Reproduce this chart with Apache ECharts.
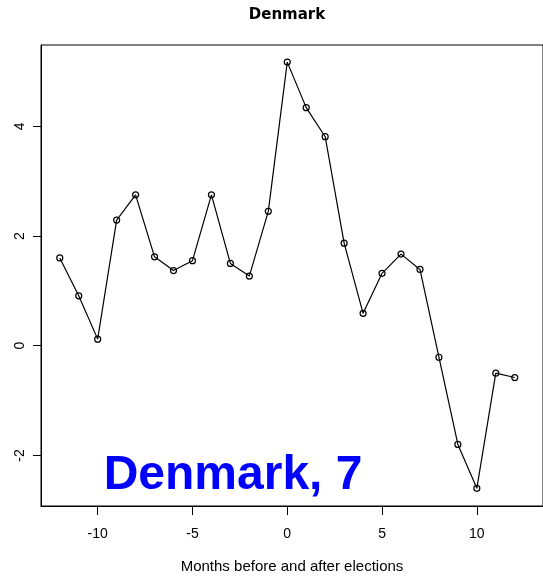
<!DOCTYPE html>
<html>
<head>
<meta charset="utf-8">
<script src="https://cdn.jsdelivr.net/npm/echarts@6/dist/echarts.min.js"></script>
<style>
html,body{margin:0;padding:0;background:#fff;}
#chart{width:543px;height:577px;}
</style>
</head>
<body>
<div id="chart"></div>
<script>
// Data
const months = [-12,-11,-10,-9,-8,-7,-6,-5,-4,-3,-2,-1,0,1,2,3,4,5,6,7,8,9,10,11,12];
const values = [1.60,0.91,0.12,2.29,2.75,1.62,1.37,1.55,2.75,1.50,1.27,2.45,5.17,4.34,3.81,1.87,0.59,1.32,1.67,1.39,-0.21,-1.80,-2.60,-0.50,-0.58];
const xTicks = [-10,-5,0,5,10];
const yTicks = [-2,0,2,4];
const titleText = 'Denmark';
const xTitle = 'Months before and after elections';
const annotation = 'Denmark, 7';
const annotationPos = [-10, -2.33];

const chart = echarts.init(document.getElementById('chart'), null, {renderer:'canvas'});
const points = months.map((m,i)=>[m, values[i]]);
const FONT = '"Liberation Sans", Arial, sans-serif';

chart.setOption({
  animation:false,
  backgroundColor:'#fff',
  title:{
    text:titleText, left:287, top:8, textAlign:'center', padding:0,
    textStyle:{fontFamily:'"DejaVu Sans", sans-serif', fontWeight:'bold', fontSize:15, color:'#000'}
  },
  grid:{left:41, top:45, right:0, height:461, outerBoundsMode:'none', containLabel:false,
        show:true, borderColor:'#000', borderWidth:1, backgroundColor:'transparent'},
  xAxis:{
    type:'value', min:-12.99, max:13.49,
    splitLine:{show:false},
    axisLine:{show:true, onZero:false, lineStyle:{color:'#000', width:1}},
    axisTick:{show:true, customValues:xTicks, length:9, lineStyle:{color:'#000'}},
    axisLabel:{customValues:xTicks, margin:21, fontFamily:FONT, fontSize:14, color:'#000'},
    name:xTitle, nameLocation:'middle', nameGap:53,
    nameTextStyle:{fontFamily:FONT, fontSize:15, color:'#000'}
  },
  yAxis:{
    type:'value', min:-2.922, max:5.482,
    splitLine:{show:false},
    axisLine:{show:true, onZero:false, lineStyle:{color:'#000', width:1}},
    axisTick:{show:true, customValues:yTicks, length:8, lineStyle:{color:'#000'}},
    axisLabel:{customValues:yTicks, rotate:90, margin:14, fontFamily:FONT, fontSize:14, color:'#000'}
  },
  series:[{
    type:'line', data:points,
    symbol:'circle', symbolSize:6,
    lineStyle:{color:'#000', width:1.2},
    itemStyle:{color:'rgba(0,0,0,0)', borderColor:'#000', borderWidth:1.2},
    z:3
  }]
});

const p = chart.convertToPixel({gridIndex:0}, annotationPos);
chart.setOption({
  graphic:[{
    type:'text', left:p[0]+6, top:p[1]-22, z:10,
    style:{text:annotation, fill:'#0000ff', font:'bold 48px "Liberation Sans", Arial, sans-serif'}
  }]
});
</script>
</body>
</html>
